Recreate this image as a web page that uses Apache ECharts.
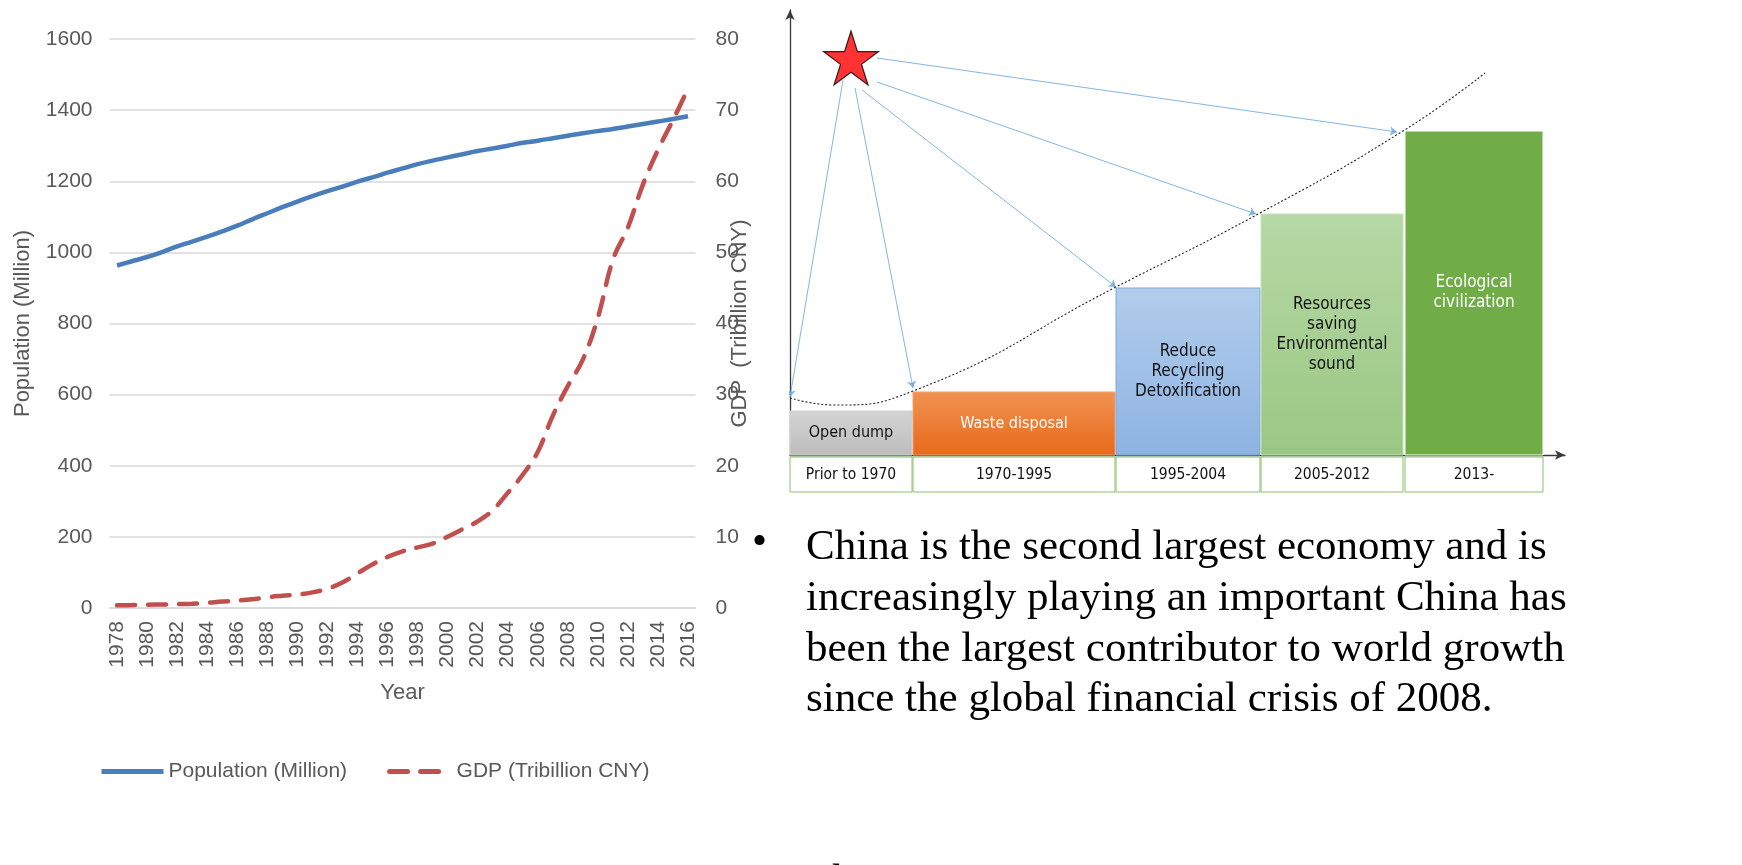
<!DOCTYPE html>
<html><head><meta charset="utf-8">
<script src="https://cdn.jsdelivr.net/npm/echarts@6/dist/echarts.min.js"></script>
<style>html,body{margin:0;padding:0;background:#fff;overflow:hidden}#c{width:1742px;height:865px}</style>
</head><body><div id="c"></div>
<script>
// ---- Left chart data ----
const years = ['1978','1979','1980','1981','1982','1983','1984','1985','1986','1987','1988','1989','1990','1991','1992','1993','1994','1995','1996','1997','1998','1999','2000','2001','2002','2003','2004','2005','2006','2007','2008','2009','2010','2011','2012','2013','2014','2015','2016'];
const population = [963,975,987,1001,1017,1030,1044,1059,1075,1093,1110,1127,1143,1158,1172,1185,1199,1211,1224,1236,1248,1258,1267,1276,1285,1292,1300,1308,1314,1321,1328,1335,1341,1347,1354,1361,1368,1375,1383];
const gdp = [0.37,0.41,0.46,0.49,0.54,0.60,0.73,0.91,1.04,1.22,1.52,1.72,1.89,2.20,2.72,3.57,4.86,6.13,7.18,7.97,8.52,9.06,10.03,11.09,12.17,13.74,16.18,18.73,21.94,27.02,31.2,34.91,40.8,48.93,53.5,59.52,64.40,68.6,73.0];
const popTicks = {min:0, max:1600, interval:200};
const gdpTicks = {min:0, max:80, interval:10};

// ---- Right diagram data (schematic units) ----
const stageNames = ['Open dump','Waste disposal','Reduce\nRecycling\nDetoxification','Resources\nsaving\nEnvironmental\nsound','Ecological\ncivilization'];
const periods = ['Prior to 1970','1970-1995','1995-2004','2005-2012','2013-'];
const stageFrom = [0,123,326,471,615];
const stageTo = [122,325,470,613,753];
const stageLevel = [44,63,167,241,324];
const curveX = [0,45,123,326,470,613,695];
const curveY = [57,50,64,168,242,324,382];
const starPos = [61,397];
const arrowFrom = [[53,375],[65,367],[72,365],[87,373],[87,397]];
const arrowTo = [[0,58],[123,67],[326,168],[466,241],[607,323]];

// ---- Paragraph text ----
const paragraph = ['China is the second largest economy and is','increasingly playing an important China has','been the largest contributor to world growth','since the global financial crisis of 2008.'];
const nextLine = 'The';

const stageFill = [['#d4d4d4','#bcbcbc'],['#f29252','#e7691a'],['#b2cdec','#8db3e2'],['#b6d8a5','#9ac883'],['#70ad47','#70ad47']];
const stageText = ['#111','#fff','#111','#111','#fff'];
const stageStroke = ['#cfcfcf','#f0a070','#7aa6dc','#c8e2b9','#ffffff'];
const stageFont = [16,16,17,17,17];

const chart = echarts.init(document.getElementById('c'), null, {renderer:'canvas'});
const gray = '#595959';
const font = 'Liberation Sans, Arial, sans-serif';
const dfont = 'DejaVu Sans Condensed, DejaVu Sans, sans-serif';
const serif = '43px "Liberation Serif", "Times New Roman", serif';

const starPath = 'path://M50,0 L61.2,34.5 L97.6,34.5 L68.2,55.9 L79.4,90.5 L50,69.1 L20.6,90.5 L31.8,55.9 L2.4,34.5 L38.8,34.5 Z';

const option = {
  animation:false,
  backgroundColor:'#fff',
  textStyle:{fontFamily:font},
  grid:[
    {left:109.5, top:39, width:586, height:569},
    {left:790, top:10, width:775, height:445}
  ],
  xAxis:[
    {type:'category', gridIndex:0, data:years, boundaryGap:true,
     axisLine:{lineStyle:{color:'#d9d9d9', width:1.5}}, axisTick:{show:false},
     axisLabel:{interval:1, rotate:90, color:gray, fontSize:21, fontFamily:font, margin:13},
     name:'Year', nameLocation:'middle', nameGap:74, nameMoveOverlap:false,
     nameTextStyle:{color:gray, fontSize:22, fontFamily:font}},
    {type:'value', gridIndex:1, min:0, max:775, splitLine:{show:false}, axisTick:{show:false}, axisLabel:{show:false},
     axisLine:{show:true, symbol:['none','arrow'], symbolSize:[7,10], lineStyle:{color:'#3a3a3a', width:1.3}}}
  ],
  yAxis:[
    {type:'value', gridIndex:0, min:popTicks.min, max:popTicks.max, interval:popTicks.interval,
     axisLine:{show:false}, axisTick:{show:false},
     splitLine:{lineStyle:{color:'#d9d9d9', width:1.5}},
     axisLabel:{color:gray, fontSize:21, fontFamily:font, margin:17, formatter:v=>String(v)},
     name:'Population (Million)', nameLocation:'middle', nameRotate:90, nameGap:76, nameMoveOverlap:false,
     nameTextStyle:{color:gray, fontSize:22, fontFamily:font}},
    {type:'value', gridIndex:0, position:'right', min:gdpTicks.min, max:gdpTicks.max, interval:gdpTicks.interval,
     axisLine:{show:false}, axisTick:{show:false}, splitLine:{show:false},
     axisLabel:{color:gray, fontSize:21, fontFamily:font, margin:20, formatter:v=>String(v)},
     name:'GDP  (Tribillion CNY)', nameLocation:'middle', nameRotate:90, nameGap:33, nameMoveOverlap:false,
     nameTextStyle:{color:gray, fontSize:22, fontFamily:font}},
    {type:'value', gridIndex:1, min:0, max:445, splitLine:{show:false}, axisTick:{show:false}, axisLabel:{show:false},
     axisLine:{show:true, symbol:['none','arrow'], symbolSize:[7,10], lineStyle:{color:'#3a3a3a', width:1.3}}}
  ],
  legend:{
    left:94, top:756, itemWidth:62, itemHeight:14, itemGap:40,
    itemStyle:{opacity:0},
    lineStyle:{width:5},
    textStyle:{color:gray, fontSize:21, fontFamily:font},
    data:['Population (Million)','GDP (Tribillion CNY)']
  },
  series:[
    {name:'Population (Million)', type:'line', xAxisIndex:0, yAxisIndex:0, data:population,
     smooth:0.4, showSymbol:false, symbol:'none',
     lineStyle:{color:'#4a7ebb', width:4.5}, itemStyle:{color:'#4a7ebb'}, z:3},
    {name:'GDP (Tribillion CNY)', type:'line', xAxisIndex:0, yAxisIndex:1, data:gdp,
     smooth:0.4, showSymbol:false, symbol:'none',
     lineStyle:{color:'#c0504d', width:4.5, type:[18,13], cap:'round'}, itemStyle:{color:'#c0504d'}, z:3},
    // stage bars
    {type:'custom', xAxisIndex:1, yAxisIndex:2, z:2,
     data:stageFrom.map((f,i)=>[f, stageTo[i], stageLevel[i]]),
     renderItem:function(params, api){
       const i = params.dataIndex;
       const p0 = api.coord([api.value(0), api.value(2)]);
       const p1 = api.coord([api.value(1), 0]);
       return {type:'rect',
         shape:{x:p0[0], y:p0[1], width:p1[0]-p0[0], height:p1[1]-p0[1]},
         style:{fill:new echarts.graphic.LinearGradient(0,0,0,1,[{offset:0,color:stageFill[i][0]},{offset:1,color:stageFill[i][1]}]),
                stroke:stageStroke[i], lineWidth:1},
         textContent:{style:{text:stageNames[i], fill:stageText[i], fontSize:stageFont[i], fontFamily:dfont, align:'center', lineHeight:20}},
         textConfig:{position:'inside'}};
     }},
    // period table
    {type:'custom', xAxisIndex:1, yAxisIndex:2, z:2,
     data:stageFrom.map((f,i)=>[f, stageTo[i]]),
     renderItem:function(params, api){
       const i = params.dataIndex;
       const a = api.coord([api.value(0), 0]);
       const b = api.coord([api.value(1), 0]);
       return {type:'rect',
         shape:{x:a[0], y:a[1]+2, width:b[0]-a[0], height:35},
         style:{fill:'#fff', stroke:'#8cc06a', lineWidth:1},
         textContent:{style:{text:periods[i], fill:'#111', fontSize:15.5, fontFamily:dfont}},
         textConfig:{position:'inside'}};
     }},
    // curve
    {type:'line', xAxisIndex:1, yAxisIndex:2, data:curveX.map((x,i)=>[x, curveY[i]]),
     smooth:0.5, showSymbol:false, symbol:'none', z:4,
     lineStyle:{color:'#222', width:1.1, type:[2,2]}},
    // arrows
    {type:'lines', coordinateSystem:'cartesian2d', xAxisIndex:1, yAxisIndex:2, z:4,
     symbol:['none','arrow'], symbolSize:7,
     lineStyle:{color:'#6fa8dc', width:1, opacity:0.85, curveness:0},
     data:arrowFrom.map((f,i)=>({coords:[f, arrowTo[i]]}))},
    // star
    {type:'scatter', xAxisIndex:1, yAxisIndex:2, z:5, data:[starPos],
     symbol:starPath, symbolSize:[55,54],
     itemStyle:{color:'#ff0000', borderColor:'#000', borderWidth:1.2}}
  ],
  graphic:[
    {type:'text', x:752, y:543, style:{text:'\u2022', font:serif, fill:'#000', verticalAlign:'middle'}},
  ].concat(paragraph.map((t,i)=>({type:'text', x:806, y:548+i*50.7,
     style:{text:t, font:serif, fill:'#000', verticalAlign:'middle'}})))
   .concat([{type:'text', x:806, y:882, style:{text:nextLine, font:serif, fill:'#000', verticalAlign:'middle'}}])
};
chart.setOption(option);
</script>
</body></html>
